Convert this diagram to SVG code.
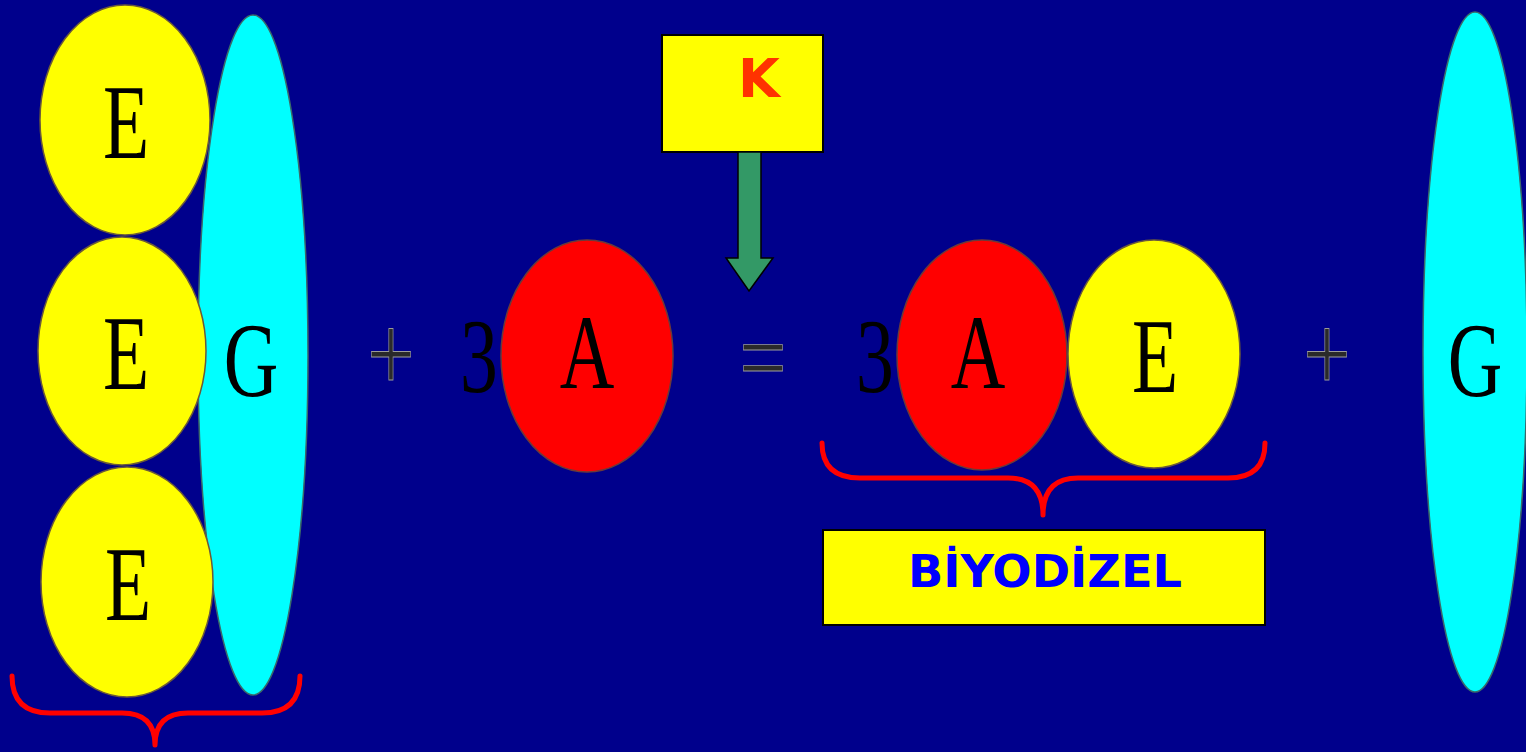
<svg xmlns="http://www.w3.org/2000/svg" width="1526" height="752" viewBox="0 0 1526 752">
<style>
.bg{fill:#00008C}
.e{fill:#FFFF00;stroke:#6b5a3a;stroke-width:1.5}
.g{fill:#00FFFF;stroke:#3a6a6a;stroke-width:1.5}
.a{fill:#FF0000;stroke:#6b3a3a;stroke-width:1.5}
.L{font-family:"Liberation Serif","Times New Roman",serif;font-size:105px;fill:#000;text-anchor:middle}
.op{font-family:"Liberation Serif","Times New Roman",serif;font-size:105px;fill:#2a2a2a;stroke:#9a9a9a;stroke-width:0.8;text-anchor:middle}
.brace{fill:none;stroke:#FF0000;stroke-width:5;stroke-linecap:round;stroke-linejoin:round}
.box{fill:#FFFF00;stroke:#000;stroke-width:2}
</style>
<rect class="bg" x="0" y="0" width="1526" height="752"/>
<g id="left-G"><ellipse class="g" cx="253" cy="355" rx="55" ry="340"/><text class="L" transform="translate(251,396) scale(0.72,1)">G</text></g>
<g id="left-E1"><ellipse class="e" cx="125" cy="120" rx="85" ry="115"/><text class="L" transform="translate(126,158) scale(0.72,1)">E</text></g>
<g id="left-E2"><ellipse class="e" cx="122" cy="351" rx="84" ry="114"/><text class="L" transform="translate(126,389) scale(0.72,1)">E</text></g>
<g id="left-E3"><ellipse class="e" cx="127" cy="582" rx="86" ry="115"/><text class="L" transform="translate(128,620) scale(0.72,1)">E</text></g>
<g id="plus1"><text class="op" transform="translate(391,391) scale(0.8,1.05)">+</text></g>
<g id="three1"><text class="L" transform="translate(479,392) scale(0.72,1)">3</text></g>
<g id="A1"><ellipse class="a" cx="587" cy="356" rx="86" ry="116"/><text class="L" transform="translate(587,388) scale(0.72,1)">A</text></g>
<g id="equals"><text class="op" transform="translate(763,393) scale(0.8,1)">=</text></g>
<g id="K"><rect class="box" x="662" y="35" width="161" height="117"/><text x="759" y="97" font-family="DejaVu Sans, sans-serif" font-weight="bold" font-size="54" fill="#FF3300" text-anchor="middle">K</text></g>
<g id="three2"><text class="L" transform="translate(875,392) scale(0.72,1)">3</text></g>
<g id="A2"><ellipse class="a" cx="982" cy="355" rx="85" ry="115"/><text class="L" transform="translate(978,388) scale(0.72,1)">A</text></g>
<g id="E4"><ellipse class="e" cx="1154" cy="354" rx="86" ry="114"/><text class="L" transform="translate(1155,392) scale(0.72,1)">E</text></g>
<g id="plus2"><text class="op" transform="translate(1327,391) scale(0.8,1.05)">+</text></g>
<g id="right-G"><ellipse class="g" cx="1475" cy="352" rx="52" ry="340"/><text class="L" transform="translate(1475,396) scale(0.72,1)">G</text></g>
<g id="biyodizel"><rect class="box" x="823" y="530" width="442" height="95"/><text x="1045" y="587" font-family="DejaVu Sans, sans-serif" font-weight="bold" font-size="44" fill="#0000FF" text-anchor="middle" textLength="274" lengthAdjust="spacingAndGlyphs">BİYODİZEL</text></g>
<g id="connectors">
<path d="M738 152 L761 152 L761 258 L773 258 L749 291 L726 258 L738 258 Z" fill="#339966" stroke="#000" stroke-width="1.5"/>
<path class="brace" d="M12 676 Q12 713 50 713 L122 713 Q155 713 155 745 Q155 713 188 713 L262 713 Q300 713 300 676"/>
<path class="brace" d="M822 443 Q822 478 860 478 L1008 478 Q1043 478 1043 515 Q1043 478 1078 478 L1228 478 Q1265 478 1265 443"/>
</g>
</svg>
